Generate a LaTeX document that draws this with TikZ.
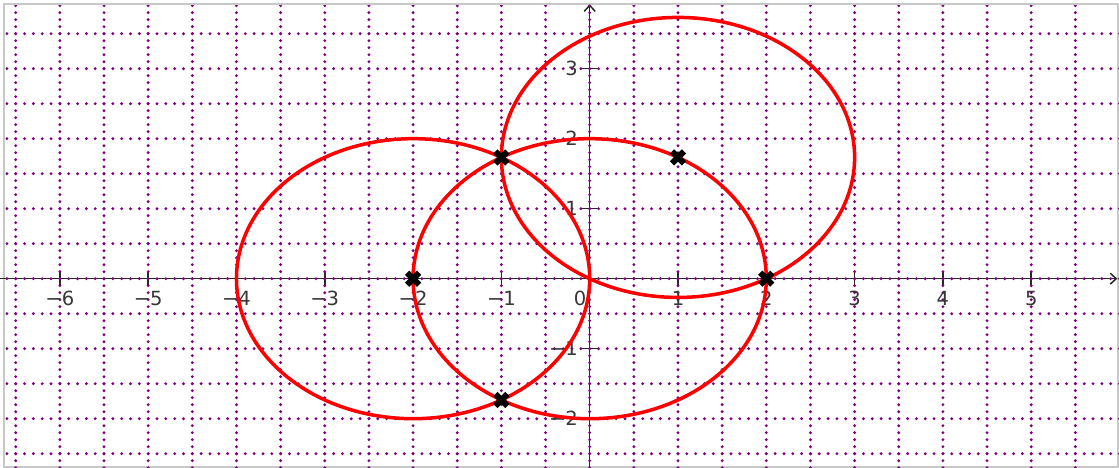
\documentclass[tikz,border=0pt]{standalone}
\usepackage{fontspec}
\setmainfont{DejaVu Sans}
\usetikzlibrary{arrows.meta}
\definecolor{gridpurple}{RGB}{128,0,128}
\definecolor{axisgray}{RGB}{40,40,40}
\definecolor{labelgray}{RGB}{55,55,55}
\definecolor{framegray}{RGB}{200,200,200}
\begin{document}
\begin{tikzpicture}[x=88.3pt,y=70pt,
  gridv/.style={draw=gridpurple, line width=3.2pt, line cap=round, dash pattern=on 0pt off 7pt},
  gridh/.style={draw=gridpurple, line width=3.2pt, line cap=round, dash pattern=on 0pt off 8.83pt},
  axisline/.style={draw=axisgray, line width=1.5pt},
  tickline/.style={draw=axisgray, line width=1.5pt},
  curve/.style={draw=red, line width=3.5pt},
  xmarker/.style={draw=black, line width=6pt},
  lab/.style={text=labelgray, font=\fontsize{19.5}{22}\selectfont, inner sep=0pt}
]
\useasboundingbox (-6.678,-2.704) rectangle (5.994,3.981);
% frame
\draw[framegray, line width=2pt] (-6.627,-2.69) rectangle (5.983,3.917);
% axes
\draw[axisline,-{Straight Barb[length=6pt,width=11pt]}] (-6.678,0) -- (5.975,0);
\draw[axisline,-{Straight Barb[length=6pt,width=11pt]}] (0,-2.704) -- (0,3.92);
\foreach \x in {-6,...,-1,1,2,3,4,5} \draw[tickline] (\x,-0.107) -- (\x,0.107);
\foreach \y in {-2,-1,1,2,3} \draw[tickline] (-0.1,\y) -- (0.1,\y);
% grid
\begin{scope}
\clip (-6.615,-2.704) rectangle (5.994,3.905);
\foreach \x in {-6.5,-6,...,5.5} \draw[gridv] (\x,-3) -- (\x,4.5);
\foreach \y in {-2.5,-2,...,3.5} \draw[gridh] (-7,\y) -- (6.5,\y);
\end{scope}
% labels
\foreach \n in {1,...,6} \node[lab,anchor=base] at (-\n,-0.39) {−\n};
\foreach \n in {1,...,5} \node[lab,anchor=base] at (\n,-0.39) {\n};
\node[lab,anchor=base] at (-0.11,-0.39) {0};
\foreach \n in {1,2,3} \node[lab,anchor=base east] at (-0.132,\n-0.093) {\n};
\foreach \n in {1,2} \node[lab,anchor=base east] at (-0.132,-\n-0.093) {−\n};
% circles
\coordinate (c1) at (0,0);
\coordinate (c2) at (-2,0);
\coordinate (c3) at (1,1.7320508);
\draw[curve] (c1) ellipse [x radius=176.6pt, y radius=140pt];
\draw[curve] (c2) ellipse [x radius=176.6pt, y radius=140pt];
\draw[curve] (c3) ellipse [x radius=176.6pt, y radius=140pt];
% markers
\foreach \px/\py in {-2/0, -1/1.7320508, 1/1.7320508, 2/0, -1/-1.7320508}
  \draw[xmarker] (\px,\py) +(-6pt,-6pt) -- +(6pt,6pt)
                 (\px,\py) +(-6pt,6pt) -- +(6pt,-6pt);
\end{tikzpicture}
\end{document}
